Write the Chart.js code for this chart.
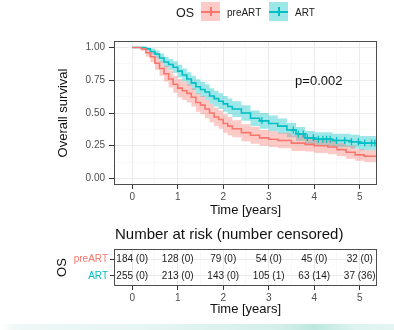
<!DOCTYPE html>
<html>
<head>
<meta charset="utf-8">
<script src="https://cdn.jsdelivr.net/npm/chart.js@4"></script>
<style>
 body{margin:0;background:#fff;font-family:"Liberation Sans",Arial,sans-serif;}
 #wrap{position:relative;width:394px;height:330px;overflow:hidden;}
 canvas{position:absolute;left:0;}
 #main{top:0;}
 #risk{top:220px;}
 .lg{position:absolute;white-space:nowrap;color:#1a1a1a;}
 .key{position:absolute;top:2px;width:19px;height:19px;}
 .key i{position:absolute;left:0;right:0;top:9px;height:1.5px;}
 .key b{position:absolute;left:9px;top:5px;width:1.5px;height:9px;}
 #strip{position:absolute;left:0;top:324px;width:394px;height:6px;
   background:linear-gradient(90deg,#fff 0%,#eef8f6 4%,#e4f5f1 40%,#d4efe9 70%,#bde8df 80%,#dcf3ee 90%,#e4f5f1 100%);}
</style>
</head>
<body>
<div id="wrap">
 <canvas id="main" width="394" height="230"></canvas>
 <canvas id="risk" width="394" height="110"></canvas>
 <div class="lg" style="left:176px;top:6px;font-size:12.5px;line-height:14px;">OS</div>
 <div class="key" style="left:201px;background:rgba(248,118,109,0.38)"><i style="background:#F8766D"></i><b style="background:#F8766D"></b></div>
 <div class="lg" style="left:227px;top:7px;font-size:10px;line-height:12px;">preART</div>
 <div class="key" style="left:269px;background:rgba(0,191,196,0.38)"><i style="background:#00BFC4"></i><b style="background:#00BFC4"></b></div>
 <div class="lg" style="left:295px;top:7px;font-size:10px;line-height:12px;">ART</div>
 <div id="strip"></div>
</div>
<script>
// survival curves (time in years, survival fraction)
const preArtTime  = [0,0.15,0.2,0.3,0.4,0.5,0.6,0.7,0.8,0.9,1.0,1.1,1.2,1.3,1.4,1.5,1.6,1.7,1.8,1.9,2.0,2.1,2.2,2.4,2.6,2.8,3.0,3.2,3.5,3.8,4.0,4.3,4.5,4.7,4.9,5.1,5.4];
const preArtSurv  = [1.0,1.0,0.99,0.96,0.93,0.88,0.84,0.80,0.76,0.72,0.69,0.67,0.65,0.62,0.58,0.56,0.53,0.50,0.47,0.45,0.42,0.40,0.38,0.35,0.33,0.31,0.30,0.29,0.27,0.26,0.25,0.24,0.22,0.20,0.18,0.17,0.16];
const preArtLower = [1.0,1.0,0.975,0.93,0.89,0.83,0.785,0.74,0.695,0.655,0.62,0.60,0.58,0.55,0.51,0.49,0.46,0.43,0.40,0.38,0.35,0.33,0.315,0.285,0.265,0.25,0.24,0.23,0.21,0.205,0.195,0.185,0.17,0.15,0.135,0.125,0.115];
const preArtUpper = [1.0,1.0,1.0,0.99,0.97,0.93,0.895,0.86,0.825,0.785,0.76,0.74,0.72,0.69,0.65,0.63,0.60,0.57,0.54,0.52,0.49,0.47,0.445,0.415,0.395,0.37,0.36,0.35,0.33,0.315,0.305,0.295,0.27,0.25,0.225,0.215,0.205];

const artTime  = [0,0.25,0.3,0.4,0.5,0.6,0.7,0.8,0.9,1.0,1.1,1.2,1.3,1.4,1.5,1.6,1.7,1.8,1.9,2.0,2.1,2.2,2.4,2.6,2.8,3.0,3.2,3.4,3.6,3.8,4.0,4.4,4.8,5.0,5.4];
const artSurv  = [1.0,1.0,0.99,0.97,0.95,0.92,0.89,0.87,0.85,0.82,0.79,0.76,0.73,0.70,0.68,0.66,0.63,0.61,0.59,0.57,0.55,0.53,0.50,0.46,0.44,0.42,0.40,0.37,0.34,0.31,0.30,0.29,0.28,0.27,0.265];
const artLower = [1.0,1.0,0.978,0.948,0.922,0.885,0.85,0.828,0.805,0.772,0.74,0.708,0.675,0.643,0.622,0.60,0.57,0.55,0.53,0.51,0.49,0.47,0.44,0.40,0.38,0.36,0.342,0.314,0.286,0.258,0.248,0.238,0.227,0.215,0.21];
const artUpper = [1.0,1.0,1.0,0.992,0.978,0.955,0.93,0.912,0.895,0.868,0.84,0.812,0.785,0.757,0.738,0.72,0.69,0.67,0.65,0.63,0.61,0.59,0.56,0.52,0.50,0.48,0.458,0.426,0.394,0.362,0.352,0.342,0.333,0.325,0.32];
const artCensorTime = [2.85,3.54,3.65,3.76,3.85,3.98,4.09,4.19,4.27,4.35,4.49,4.67,4.82,4.97,5.11,5.26,5.33];

// number at risk table
const riskGroups = ['preART','ART'];
const riskTimes = [0,1,2,3,4,5];
const preArtAtRisk = [184,128,79,54,45,32];
const preArtCensored = [0,0,0,0,0,0];
const artAtRisk = [255,213,143,105,63,37];
const artCensored = [0,0,0,1,14,36];

// ticks
const xMajorTicks = [0,1,2,3,4,5];
const xGridValues = [0,0.5,1,1.5,2,2.5,3,3.5,4,4.5,5];
const yMajorTicks = [0,0.25,0.5,0.75,1];
const yTickLabels = ['0.00','0.25','0.50','0.75','1.00'];
const yGridValues = [0,0.125,0.25,0.375,0.5,0.625,0.75,0.875,1];
const pValueText = 'p=0.002';

const RED = '#F8766D', TEAL = '#00BFC4';
const RED_BAND = 'rgba(248,118,109,0.38)', TEAL_BAND = 'rgba(0,191,196,0.38)';
const GRID = '#EBEBEB', GRID_MINOR = '#F5F5F5', TICK = '#333333';

Chart.defaults.font.family = '"Liberation Sans", Arial, sans-serif';
Chart.defaults.animation = false;

function pts(xs, ys) { return xs.map((x, i) => ({x: x, y: ys[i]})); }
function survAt(ts, ss, t) {
  let v = ss[0];
  for (let i = 0; i < ts.length; i++) { if (ts[i] <= t) v = ss[i]; }
  return v;
}
const isMajorX = v => xMajorTicks.includes(v);
const isMajorY = v => yMajorTicks.includes(v);

// ggplot-ish panel border
const panelBorder = {
  id: 'panelBorder',
  afterDraw(chart) {
    const {ctx, chartArea: a} = chart;
    ctx.save();
    ctx.strokeStyle = '#4d4d4d';
    ctx.lineWidth = 1;
    ctx.strokeRect(a.left + 0.5, a.top + 0.5, a.right - a.left - 1, a.bottom - a.top - 1);
    ctx.restore();
  }
};

const pLabel = {
  id: 'pLabel',
  afterDatasetsDraw(chart) {
    const {ctx, scales} = chart;
    ctx.save();
    ctx.font = '13px "Liberation Sans", Arial, sans-serif';
    ctx.fillStyle = '#111';
    ctx.textAlign = 'center';
    ctx.textBaseline = 'middle';
    ctx.fillText(pValueText, scales.x.getPixelForValue(4.1), scales.y.getPixelForValue(0.74));
    ctx.restore();
  }
};

function xScale(height, titlePad) {
  return {
    type: 'linear', min: -0.4, max: 5.38,
    afterBuildTicks: s => { s.ticks = xGridValues.map(v => ({value: v})); },
    afterFit: s => { s.height = height; },
    ticks: {autoSkip: false, maxRotation: 0, font: {size: 10}, color: '#4d4d4d', padding: 2,
      callback: v => isMajorX(v) ? String(v) : ''},
    grid: {
      color: c => isMajorX(c.tick.value) ? GRID : GRID_MINOR,
      lineWidth: c => isMajorX(c.tick.value) ? 1 : 0.6,
      tickLength: 4,
      tickColor: c => isMajorX(c.tick.value) ? TICK : 'rgba(0,0,0,0)'
    },
    border: {display: false},
    title: {display: true, text: 'Time [years]', font: {size: 13}, color: '#111', padding: {top: 0, bottom: titlePad}}
  };
}

new Chart(document.getElementById('main'), {
  type: 'line',
  data: {
    datasets: [
      {data: pts(preArtTime, preArtUpper), borderWidth: 0, pointRadius: 0, stepped: true, fill: false, order: 3},
      {data: pts(preArtTime, preArtLower), borderWidth: 0, pointRadius: 0, stepped: true, fill: '-1', backgroundColor: RED_BAND, order: 3},
      {data: pts(artTime, artUpper), borderWidth: 0, pointRadius: 0, stepped: true, fill: false, order: 3},
      {data: pts(artTime, artLower), borderWidth: 0, pointRadius: 0, stepped: true, fill: '-1', backgroundColor: TEAL_BAND, order: 3},
      {label: 'preART', data: pts(preArtTime, preArtSurv), borderColor: RED, borderWidth: 1.6, pointRadius: 0, stepped: true, fill: false, order: 2},
      {label: 'ART', data: pts(artTime, artSurv), borderColor: TEAL, borderWidth: 1.6, pointRadius: 0, stepped: true, fill: false, order: 2},
      {data: artCensorTime.map(t => ({x: t, y: survAt(artTime, artSurv, t)})), showLine: false,
        pointStyle: 'cross', pointRadius: 3.5, borderColor: TEAL, borderWidth: 1.3, order: 1}
    ]
  },
  options: {
    responsive: false,
    layout: {padding: {left: 0, top: 41, right: 17, bottom: 0}},
    plugins: {legend: {display: false}, tooltip: {enabled: false}},
    scales: {
      x: xScale(45, 12.2),
      y: {
        min: -0.05, max: 1.05,
        afterBuildTicks: s => { s.ticks = yGridValues.map(v => ({value: v})); },
        afterFit: s => { s.width = 114; },
        ticks: {autoSkip: false, font: {size: 10}, color: '#4d4d4d', padding: 4,
          callback: v => isMajorY(v) ? yTickLabels[yMajorTicks.indexOf(v)] : ''},
        grid: {
          color: c => isMajorY(c.tick.value) ? GRID : GRID_MINOR,
          lineWidth: c => isMajorY(c.tick.value) ? 1 : 0.6,
          tickLength: 5,
          tickColor: c => isMajorY(c.tick.value) ? TICK : 'rgba(0,0,0,0)'
        },
        border: {display: false},
        title: {display: true, text: 'Overall survival', font: {size: 13}, color: '#111', padding: {top: 55.5, bottom: 0}}
      }
    }
  },
  plugins: [panelBorder, pLabel]
});

// risk table: text drawn at each data point through the scales
const riskText = {
  id: 'riskText',
  afterDatasetsDraw(chart) {
    const {ctx, scales} = chart;
    ctx.save();
    ctx.font = '10px "Liberation Sans", Arial, sans-serif';
    ctx.fillStyle = '#1a1a1a';
    ctx.textAlign = 'center';
    ctx.textBaseline = 'middle';
    chart.data.datasets.forEach(ds => {
      ds.data.forEach((p, i) => {
        ctx.fillText(ds.labels[i], scales.x.getPixelForValue(p.x), scales.y.getPixelForValue(p.y));
      });
    });
    ctx.restore();
  }
};
const riskTitle = {
  id: 'riskTitle',
  afterDraw(chart) {
    const {ctx, chartArea: a} = chart;
    ctx.save();
    ctx.font = '15px "Liberation Sans", Arial, sans-serif';
    ctx.fillStyle = '#111';
    ctx.textAlign = 'left';
    ctx.textBaseline = 'middle';
    ctx.fillText('Number at risk (number censored)', a.left + 1, 15);
    ctx.restore();
  }
};

new Chart(document.getElementById('risk'), {
  type: 'scatter',
  data: {
    datasets: [
      {data: riskTimes.map(t => ({x: t, y: 1})), labels: preArtAtRisk.map((n, i) => n + ' (' + preArtCensored[i] + ')'), pointRadius: 0},
      {data: riskTimes.map(t => ({x: t, y: 2})), labels: artAtRisk.map((n, i) => n + ' (' + artCensored[i] + ')'), pointRadius: 0}
    ]
  },
  options: {
    responsive: false,
    layout: {padding: {left: 0, top: 29, right: 17, bottom: 0}},
    plugins: {legend: {display: false}, tooltip: {enabled: false}},
    scales: {
      x: xScale(44, 13.2),
      y: {
        type: 'linear', min: 0.4, max: 2.6, reverse: true,
        afterBuildTicks: s => { s.ticks = [1, 2].map(v => ({value: v})); },
        afterFit: s => { s.width = 114; },
        ticks: {autoSkip: false, font: {size: 10}, padding: 2,
          color: c => c.tick.value === 1 ? RED : TEAL,
          callback: v => riskGroups[v - 1]},
        grid: {color: GRID, lineWidth: 1, tickLength: 4, tickColor: TICK},
        border: {display: false},
        title: {display: true, text: 'OS', font: {size: 13}, color: '#111', padding: {top: 54.2, bottom: 0}}
      }
    }
  },
  plugins: [panelBorder, riskText, riskTitle]
});
</script>
</body>
</html>
